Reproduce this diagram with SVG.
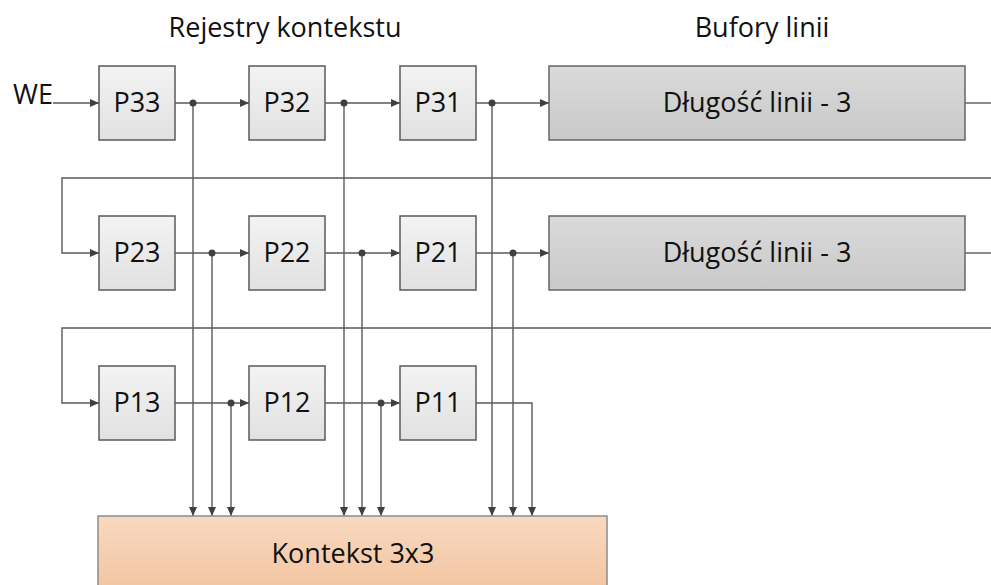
<svg xmlns="http://www.w3.org/2000/svg" width="991" height="585" viewBox="0 0 991 585">
<style>
text{font-family:"Open Sans","Liberation Sans",sans-serif;font-size:27px;fill:#111;}
.c{text-anchor:middle;}
.reg{fill:url(#gReg);stroke:#5a5a5a;stroke-width:1.5;}
.buf{fill:url(#gBuf);stroke:#666;stroke-width:1.5;}
.ctx{fill:url(#gCtx);stroke:#8c8c8c;stroke-width:1.5;}
.shadow{fill:#cfcfcf;}
#connectors path{fill:none;stroke:#595959;stroke-width:1.4;}
.arr{marker-end:url(#ah);}
.dot{fill:#404040;}
</style>
<defs>
<linearGradient id="gReg" x1="0" y1="0" x2="0" y2="1"><stop offset="0" stop-color="#f3f3f3"/><stop offset="1" stop-color="#e1e1e1"/></linearGradient>
<linearGradient id="gBuf" x1="0" y1="0" x2="0" y2="1"><stop offset="0" stop-color="#dadada"/><stop offset="1" stop-color="#c9c9c9"/></linearGradient>
<linearGradient id="gCtx" x1="0" y1="0" x2="0" y2="1"><stop offset="0" stop-color="#f8d9c0"/><stop offset="1" stop-color="#f3c39e"/></linearGradient>
<marker id="ah" markerWidth="10" markerHeight="10" refX="9" refY="4.5" orient="auto" markerUnits="userSpaceOnUse"><path d="M0,0.5 L9,4.5 L0,8.5 Z" fill="#404040"/></marker>
</defs>
<rect width="991" height="585" fill="#fff"/>
<text x="285" y="37" class="c">Rejestry kontekstu</text>
<text x="762" y="37" class="c">Bufory linii</text>
<text x="13" y="104">WE</text>
<g id="connectors">
<path class="arr" d="M53,103 H99"/>
<path class="arr" d="M175,103 H249"/>
<path class="arr" d="M325,103 H400"/>
<path class="arr" d="M476,103 H549"/>
<path d="M965,103 H991"/>
<path class="arr" d="M991,178 H62 V253 H99"/>
<path class="arr" d="M175,253 H249"/>
<path class="arr" d="M325,253 H400"/>
<path class="arr" d="M476,253 H549"/>
<path d="M965,253 H991"/>
<path class="arr" d="M991,328 H62 V403 H99"/>
<path class="arr" d="M175,403 H249"/>
<path class="arr" d="M325,403 H400"/>
<path class="arr" d="M476,403 H532 V516"/>
<path class="arr" d="M193,103 V516"/>
<path class="arr" d="M212,253 V516"/>
<path class="arr" d="M231,403 V516"/>
<path class="arr" d="M344,103 V516"/>
<path class="arr" d="M362,253 V516"/>
<path class="arr" d="M381,403 V516"/>
<path class="arr" d="M492,103 V516"/>
<path class="arr" d="M513,253 V516"/>
<circle class="dot" cx="193" cy="103" r="3.5"/>
<circle class="dot" cx="344" cy="103" r="3.5"/>
<circle class="dot" cx="492" cy="103" r="3.5"/>
<circle class="dot" cx="212" cy="253" r="3.5"/>
<circle class="dot" cx="362" cy="253" r="3.5"/>
<circle class="dot" cx="513" cy="253" r="3.5"/>
<circle class="dot" cx="231" cy="403" r="3.5"/>
<circle class="dot" cx="381" cy="403" r="3.5"/>
</g>
<g id="P33"><rect class="reg" x="99" y="66" width="76" height="74"/><text x="137" y="112" class="c">P33</text></g>
<g id="P32"><rect class="reg" x="249" y="66" width="76" height="74"/><text x="287" y="112" class="c">P32</text></g>
<g id="P31"><rect class="reg" x="400" y="66" width="76" height="74"/><text x="438" y="112" class="c">P31</text></g>
<g id="buf1"><rect class="buf" x="549" y="66" width="416" height="74"/><text x="757" y="112" class="c">Długość linii - 3</text></g>
<g id="P23"><rect class="reg" x="99" y="216" width="76" height="74"/><text x="137" y="262" class="c">P23</text></g>
<g id="P22"><rect class="reg" x="249" y="216" width="76" height="74"/><text x="287" y="262" class="c">P22</text></g>
<g id="P21"><rect class="reg" x="400" y="216" width="76" height="74"/><text x="438" y="262" class="c">P21</text></g>
<g id="buf2"><rect class="buf" x="549" y="216" width="416" height="74"/><text x="757" y="262" class="c">Długość linii - 3</text></g>
<g id="P13"><rect class="reg" x="99" y="366" width="76" height="74"/><text x="137" y="412" class="c">P13</text></g>
<g id="P12"><rect class="reg" x="249" y="366" width="76" height="74"/><text x="287" y="412" class="c">P12</text></g>
<g id="P11"><rect class="reg" x="400" y="366" width="76" height="74"/><text x="438" y="412" class="c">P11</text></g>
<g id="ctx"><rect class="ctx" x="98" y="516" width="509" height="80"/><text x="353" y="563" class="c">Kontekst 3x3</text></g>
</svg>
